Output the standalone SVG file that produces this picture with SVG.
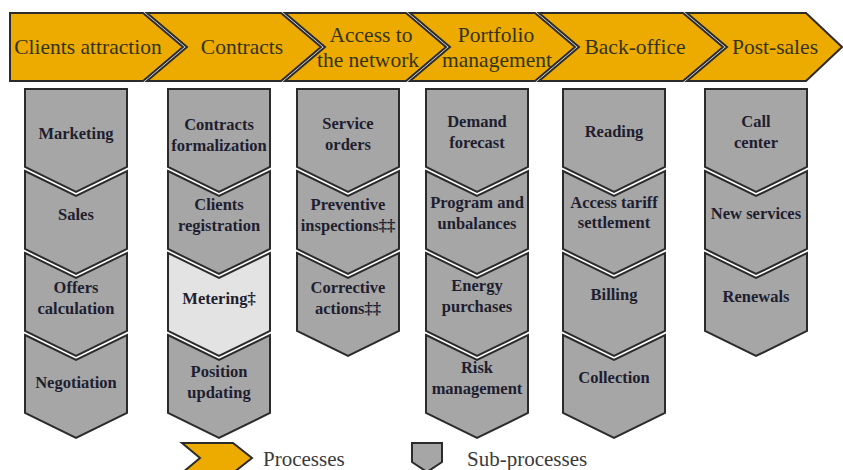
<svg xmlns="http://www.w3.org/2000/svg" width="843" height="470" viewBox="0 0 843 470">
<style>
.proc{fill:#EDAB00;stroke:#2b2b2b;stroke-width:2;stroke-linejoin:miter}
.sub{fill:#A6A6A6;stroke:#2b2b2b;stroke-width:2;stroke-linejoin:miter}
.subl{fill:#E3E3E3;stroke:#2b2b2b;stroke-width:2;stroke-linejoin:miter}
.pt{font-size:21.5px;fill:#33331a;text-anchor:middle}
.st{font-weight:bold;font-size:16.5px;fill:#1e1e30;text-anchor:middle}
.lt{font-size:21px;fill:#3a3a3a}
</style>
<rect width="843" height="470" fill="#ffffff"/>
<g font-family="Liberation Serif, DejaVu Serif, serif">
<g id="processes">
<g id="p1"><polygon class="proc" points="10,13 143,13 183,47 143,81 10,81"/><text class="pt" x="88" y="54">Clients attraction</text></g>
<g id="p2"><polygon class="proc" points="147,13 281,13 321,47 281,81 147,81 187,47"/><text class="pt" x="242" y="54">Contracts</text></g>
<g id="p3"><polygon class="proc" points="285,13 406,13 446,47 406,81 285,81 325,47"/><text class="pt" x="371" y="42">Access to</text><text class="pt" x="368" y="67">the network</text></g>
<g id="p4"><polygon class="proc" points="410,13 535,13 575,47 535,81 410,81 450,47"/><text class="pt" x="496" y="42">Portfolio</text><text class="pt" x="497" y="67">management</text></g>
<g id="p5"><polygon class="proc" points="539,13 683,13 723,47 683,81 539,81 579,47"/><text class="pt" x="635" y="54">Back-office</text></g>
<g id="p6"><polygon class="proc" points="687,13 806,13 842,47 806,81 687,81 727,47"/><text class="pt" x="775" y="54">Post-sales</text></g>
</g>
<g id="col1">
<g id="s1a"><polygon class="sub" points="25,89 127,89 127,167 76,192 25,167"/><text class="st" x="76" y="139">Marketing</text></g>
<g id="s1b"><polygon class="sub" points="25,171 76,196 127,171 127,249 76,274 25,249"/><text class="st" x="76" y="220">Sales</text></g>
<g id="s1c"><polygon class="sub" points="25,253 76,278 127,253 127,331 76,356 25,331"/><text class="st" x="76" y="293">Offers</text><text class="st" x="76" y="314">calculation</text></g>
<g id="s1d"><polygon class="sub" points="25,335 76,360 127,335 127,413 76,438 25,413"/><text class="st" x="76" y="388">Negotiation</text></g>
</g>
<g id="col2">
<g id="s2a"><polygon class="sub" points="168,89 270,89 270,167 219,192 168,167"/><text class="st" x="219" y="130">Contracts</text><text class="st" x="219" y="151">formalization</text></g>
<g id="s2b"><polygon class="sub" points="168,171 219,196 270,171 270,249 219,274 168,249"/><text class="st" x="219" y="210">Clients</text><text class="st" x="219" y="231">registration</text></g>
<g id="s2c"><polygon class="subl" points="168,253 219,278 270,253 270,331 219,356 168,331"/><text class="st" x="219" y="304">Metering‡</text></g>
<g id="s2d"><polygon class="sub" points="168,335 219,360 270,335 270,413 219,438 168,413"/><text class="st" x="219" y="377">Position</text><text class="st" x="219" y="398">updating</text></g>
</g>
<g id="col3">
<g id="s3a"><polygon class="sub" points="297,89 399,89 399,167 348,192 297,167"/><text class="st" x="348" y="129">Service</text><text class="st" x="348" y="150">orders</text></g>
<g id="s3b"><polygon class="sub" points="297,171 348,196 399,171 399,249 348,274 297,249"/><text class="st" x="348" y="210">Preventive</text><text class="st" x="348" y="231">inspections‡‡</text></g>
<g id="s3c"><polygon class="sub" points="297,253 348,278 399,253 399,331 348,356 297,331"/><text class="st" x="348" y="293">Corrective</text><text class="st" x="348" y="314">actions‡‡</text></g>
</g>
<g id="col4">
<g id="s4a"><polygon class="sub" points="426,89 528,89 528,167 477,192 426,167"/><text class="st" x="477" y="127">Demand</text><text class="st" x="477" y="148">forecast</text></g>
<g id="s4b"><polygon class="sub" points="426,171 477,196 528,171 528,249 477,274 426,249"/><text class="st" x="477" y="208">Program and</text><text class="st" x="477" y="229">unbalances</text></g>
<g id="s4c"><polygon class="sub" points="426,253 477,278 528,253 528,331 477,356 426,331"/><text class="st" x="477" y="291">Energy</text><text class="st" x="477" y="312">purchases</text></g>
<g id="s4d"><polygon class="sub" points="426,335 477,360 528,335 528,413 477,438 426,413"/><text class="st" x="477" y="373">Risk</text><text class="st" x="477" y="394">management</text></g>
</g>
<g id="col5">
<g id="s5a"><polygon class="sub" points="563,89 665,89 665,167 614,192 563,167"/><text class="st" x="614" y="137">Reading</text></g>
<g id="s5b"><polygon class="sub" points="563,171 614,196 665,171 665,249 614,274 563,249"/><text class="st" x="614" y="208">Access tariff</text><text class="st" x="614" y="228">settlement</text></g>
<g id="s5c"><polygon class="sub" points="563,253 614,278 665,253 665,331 614,356 563,331"/><text class="st" x="614" y="300">Billing</text></g>
<g id="s5d"><polygon class="sub" points="563,335 614,360 665,335 665,413 614,438 563,413"/><text class="st" x="614" y="383">Collection</text></g>
</g>
<g id="col6">
<g id="s6a"><polygon class="sub" points="705,89 807,89 807,167 756,192 705,167"/><text class="st" x="756" y="127">Call</text><text class="st" x="756" y="148">center</text></g>
<g id="s6b"><polygon class="sub" points="705,171 756,196 807,171 807,249 756,274 705,249"/><text class="st" x="756" y="219">New services</text></g>
<g id="s6c"><polygon class="sub" points="705,253 756,278 807,253 807,331 756,356 705,331"/><text class="st" x="756" y="302">Renewals</text></g>
</g>
<g id="connectors"></g>
<g id="legend">
<g id="legend-processes"><polygon class="proc" points="182,443 233,443 252,458 233,473 182,473 200,458"/><text class="lt" x="263" y="466">Processes</text></g>
<g id="legend-subprocesses"><polygon class="sub" points="412,443 442,443 442,462 427,472 412,462"/><text class="lt" x="467" y="466">Sub-processes</text></g>
</g>
</g>
</svg>
